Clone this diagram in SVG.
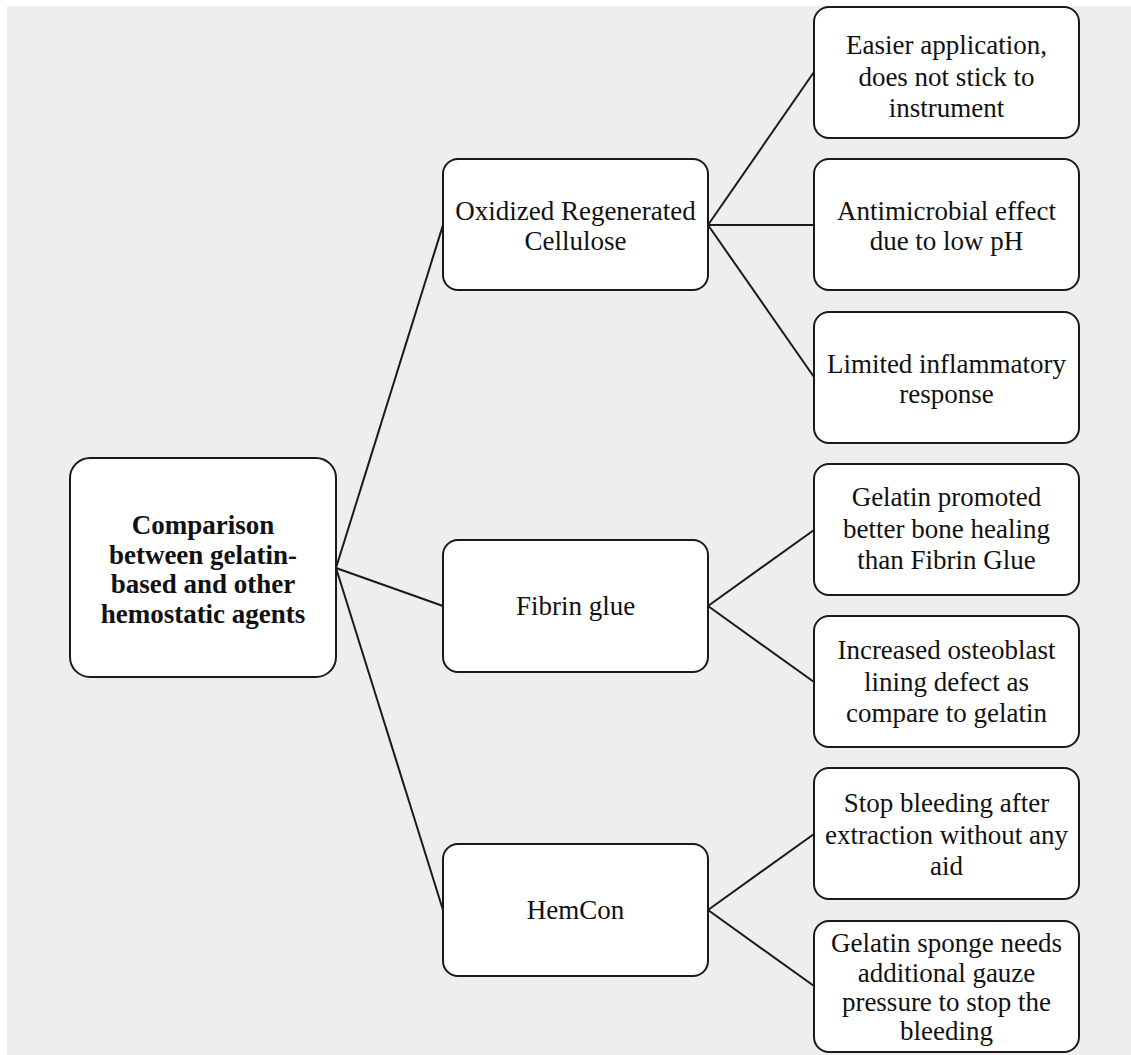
<svg xmlns="http://www.w3.org/2000/svg" width="1131" height="1055" viewBox="0 0 1131 1055">
<style>
.box{fill:#ffffff;stroke:#1a1a1a;stroke-width:2}
.t{font-family:"Liberation Serif","Times New Roman",serif;font-size:27px;fill:#111;text-anchor:middle}
.b{font-weight:bold}
.c{stroke:#1a1a1a;stroke-width:2;fill:none}
</style>
<rect x="0" y="0" width="1131" height="1055" fill="#ffffff"/>
<rect x="7" y="6" width="1124" height="1049" fill="#eeeeee"/>
<g id="connectors">
<line class="c" x1="336" y1="568" x2="443" y2="225"/>
<line class="c" x1="336" y1="568" x2="443" y2="606"/>
<line class="c" x1="336" y1="568" x2="443" y2="910"/>
<line class="c" x1="708" y1="225" x2="814" y2="72"/>
<line class="c" x1="708" y1="225" x2="814" y2="225"/>
<line class="c" x1="708" y1="225" x2="814" y2="377"/>
<line class="c" x1="708" y1="606" x2="814" y2="530"/>
<line class="c" x1="708" y1="606" x2="814" y2="682"/>
<line class="c" x1="708" y1="910" x2="814" y2="834"/>
<line class="c" x1="708" y1="910" x2="814" y2="986"/>
</g>
<g id="root">
<rect class="box" x="70" y="458" width="266" height="219" rx="20"/>
<text class="t b" x="203"><tspan x="203" y="534">Comparison</tspan><tspan x="203" y="563.5">between gelatin-</tspan><tspan x="203" y="593">based and other</tspan><tspan x="203" y="622.5">hemostatic agents</tspan></text>
</g>
<g id="orc">
<rect class="box" x="443" y="159" width="265" height="131" rx="15"/>
<text class="t"><tspan x="575.5" y="220">Oxidized Regenerated</tspan><tspan x="575.5" y="250">Cellulose</tspan></text>
</g>
<g id="fibrin">
<rect class="box" x="443" y="540" width="265" height="132" rx="15"/>
<text class="t" x="575.5" y="615">Fibrin glue</text>
</g>
<g id="hemcon">
<rect class="box" x="443" y="844" width="265" height="132" rx="15"/>
<text class="t" x="575.5" y="919">HemCon</text>
</g>
<g id="r1">
<rect class="box" x="814" y="7" width="265" height="131" rx="15"/>
<text class="t"><tspan x="946.5" y="54">Easier application,</tspan><tspan x="946.5" y="85.5">does not stick to</tspan><tspan x="946.5" y="117">instrument</tspan></text>
</g>
<g id="r2">
<rect class="box" x="814" y="159" width="265" height="131" rx="15"/>
<text class="t"><tspan x="946.5" y="220">Antimicrobial effect</tspan><tspan x="946.5" y="250">due to low pH</tspan></text>
</g>
<g id="r3">
<rect class="box" x="814" y="312" width="265" height="131" rx="15"/>
<text class="t"><tspan x="946.5" y="373">Limited inflammatory</tspan><tspan x="946.5" y="403">response</tspan></text>
</g>
<g id="r4">
<rect class="box" x="814" y="464" width="265" height="131" rx="15"/>
<text class="t"><tspan x="946.5" y="506">Gelatin promoted</tspan><tspan x="946.5" y="537.5">better bone healing</tspan><tspan x="946.5" y="569">than Fibrin Glue</tspan></text>
</g>
<g id="r5">
<rect class="box" x="814" y="616" width="265" height="131" rx="15"/>
<text class="t"><tspan x="946.5" y="659">Increased osteoblast</tspan><tspan x="946.5" y="690.5">lining defect as</tspan><tspan x="946.5" y="722">compare to gelatin</tspan></text>
</g>
<g id="r6">
<rect class="box" x="814" y="768" width="265" height="131" rx="15"/>
<text class="t"><tspan x="946.5" y="812">Stop bleeding after</tspan><tspan x="946.5" y="843.5">extraction without any</tspan><tspan x="946.5" y="875">aid</tspan></text>
</g>
<g id="r7">
<rect class="box" x="814" y="921" width="265" height="131" rx="15"/>
<text class="t"><tspan x="946.5" y="952">Gelatin sponge needs</tspan><tspan x="946.5" y="981.5">additional gauze</tspan><tspan x="946.5" y="1011">pressure to stop the</tspan><tspan x="946.5" y="1040">bleeding</tspan></text>
</g>
</svg>
